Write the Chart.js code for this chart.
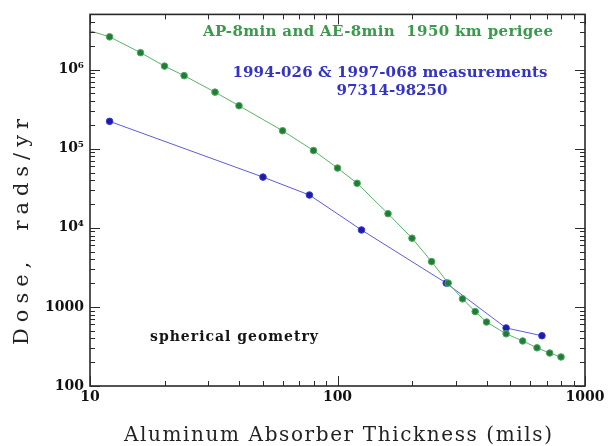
<!DOCTYPE html>
<html><head><meta charset="utf-8">
<script src="https://cdn.jsdelivr.net/npm/chart.js@4.4.1/dist/chart.umd.min.js"></script>
<style>html,body{margin:0;padding:0;background:#fff}#wrap{width:608px;height:446px}</style>
</head><body><div id="wrap"><canvas id="c" width="608" height="446"></canvas></div>
<script>
// AP-8min / AE-8min model, 1950 km perigee (mils of Al -> rads/yr)
const modelThickness = [10, 12, 16, 20, 24, 32, 40, 60, 80, 100, 120, 160, 200, 240, 280, 320, 360, 400, 480, 560, 640, 720, 800];
const modelDose = [3.1e6, 2.6e6, 1.64e6, 1.11e6, 8.4e5, 5.2e5, 3.5e5, 1.69e5, 9.5e4, 5.7e4, 3.66e4, 1.51e4, 7.4e3, 3.74e3, 2.0e3, 1265, 873, 644, 457, 371, 304, 261, 233];
// 1994-026 & 1997-068 measurements
const measThickness = [12, 50, 77, 125, 275, 480, 670];
const measDose = [2.22e5, 4.38e4, 2.6e4, 9.4e3, 2.0e3, 542, 432];

const xTickValues = [10,20,30,40,50,60,70,80,90,100,200,300,400,500,600,700,800,900,1000];
const yTickValues = [100,200,300,400,500,600,700,800,900,1000,2000,3000,4000,5000,6000,7000,8000,9000,
  1e4,2e4,3e4,4e4,5e4,6e4,7e4,8e4,9e4,1e5,2e5,3e5,4e5,5e5,6e5,7e5,8e5,9e5,1e6,2e6,3e6,4e6,5e6];
const xTickLabels = {10:'10', 100:'100', 1000:'1000'};
const yTickLabels = {100:'100', 1000:'1000', 10000:'10\u2074', 100000:'10\u2075', 1000000:'10\u2076'};

const isPow10 = v => Math.abs(Math.log10(v) - Math.round(Math.log10(v))) < 1e-9;

function fitText(ctx, text, cx, cy, font, color, width, rot) {
  ctx.save();
  ctx.font = font; ctx.fillStyle = color; ctx.textAlign = 'left'; ctx.textBaseline = 'middle';
  ctx.letterSpacing = '0px';
  const w0 = ctx.measureText(text).width;
  const ls = (width - w0) / (text.length - 1);
  ctx.letterSpacing = ls + 'px';
  ctx.translate(cx, cy);
  if (rot) ctx.rotate(rot);
  ctx.fillText(text, -width / 2, 0);
  ctx.restore();
}

const framePlugin = {
  id: 'frame',
  afterDraw(chart) {
    const {ctx, chartArea: a, scales: {x, y}} = chart;
    ctx.save();
    ctx.strokeStyle = '#2a2a2a';
    ctx.lineWidth = 1;
    ctx.beginPath();
    x.ticks.forEach(t => {
      const px = Math.round(x.getPixelForValue(t.value)) + 0.5;
      const len = isPow10(t.value) ? 10 : 5;
      ctx.moveTo(px, a.bottom); ctx.lineTo(px, a.bottom - len);
      ctx.moveTo(px, a.top); ctx.lineTo(px, a.top + len);
    });
    y.ticks.forEach(t => {
      const py = Math.round(y.getPixelForValue(t.value)) + 0.5;
      const len = isPow10(t.value) ? 10 : 5;
      ctx.moveTo(a.left, py); ctx.lineTo(a.left + len, py);
      ctx.moveTo(a.right, py); ctx.lineTo(a.right - len, py);
    });
    ctx.stroke();
    ctx.lineWidth = 1.6;
    ctx.strokeRect(a.left, a.top, a.right - a.left, a.bottom - a.top);
    ctx.restore();

    fitText(ctx, 'AP-8min and AE-8min  1950 km perigee', 378, 32, 'bold 15px "DejaVu Serif"', '#3a9a4c', 350);
    fitText(ctx, '1994-026 & 1997-068 measurements', 390, 73, 'bold 15px "DejaVu Serif"', '#3434c4', 315);
    fitText(ctx, '97314-98250', 392, 91, 'bold 15px "DejaVu Serif"', '#3434c4', 111);
    fitText(ctx, 'spherical geometry', 234, 337, 'bold 14px "DejaVu Serif"', '#151515', 168);
    fitText(ctx, 'Dose,  rads/yr', 23, 232, '21px "DejaVu Serif"', '#222', 226, -Math.PI / 2);
    fitText(ctx, 'Aluminum Absorber Thickness (mils)', 338, 436, '20px "DejaVu Serif"', '#222', 428);
  }
};

new Chart(document.getElementById('c'), {
  type: 'line',
  data: {
    datasets: [
      {
        data: modelThickness.map((t, i) => ({x: t, y: modelDose[i]})),
        borderColor: '#58b468', borderWidth: 1,
        pointBackgroundColor: '#1f7d37', pointBorderColor: '#4fa85f', pointBorderWidth: 1,
        pointRadius: ctx => ctx.dataIndex === 0 ? 0 : 3.3,
        tension: 0
      },
      {
        data: measThickness.map((t, i) => ({x: t, y: measDose[i]})),
        borderColor: '#5c5ce0', borderWidth: 1,
        pointBackgroundColor: '#1c1ca8', pointBorderColor: '#3a3ad0', pointBorderWidth: 1,
        pointRadius: 3.3,
        tension: 0
      }
    ]
  },
  options: {
    responsive: false, animation: false,
    layout: {padding: {left: 0, right: 23, top: 7, bottom: 0}},
    plugins: {legend: {display: false}, tooltip: {enabled: false}},
    scales: {
      x: {
        type: 'logarithmic', min: 10, max: 1000,
        afterBuildTicks: ax => { ax.ticks = xTickValues.map(v => ({value: v})); },
        afterFit: ax => { ax.height = 60; },
        grid: {display: false, drawTicks: false},
        border: {display: false},
        ticks: {
          autoSkip: false, maxRotation: 0, padding: 3, color: '#111',
          font: {family: 'DejaVu Serif', size: 14, weight: 'bold'},
          callback: v => xTickLabels[v] ?? ''
        }
      },
      y: {
        type: 'logarithmic', min: 100, max: 5e6,
        afterBuildTicks: ax => { ax.ticks = yTickValues.map(v => ({value: v})); },
        afterFit: ax => { ax.width = 90; },
        grid: {display: false, drawTicks: false},
        border: {display: false},
        ticks: {
          autoSkip: false, padding: 6, color: '#111',
          font: {family: 'DejaVu Serif', size: 14, weight: 'bold'},
          callback: v => yTickLabels[v] ?? ''
        }
      }
    }
  },
  plugins: [framePlugin]
});
</script></body></html>
